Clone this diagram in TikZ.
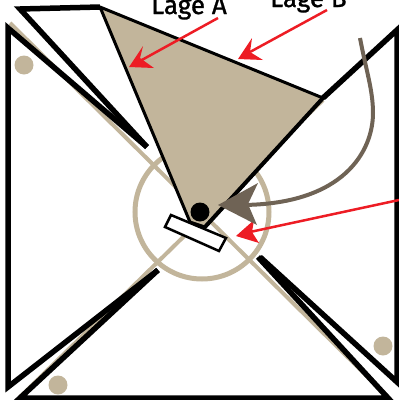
\documentclass[tikz,border=0pt]{standalone}
\usepackage{fontspec}
\setmainfont{Fira Sans}
\newfontfamily\hand[FakeBold=1.2]{Fira Sans}
\definecolor{tan}{HTML}{C2B59B}
\definecolor{umber}{HTML}{6F6355}
\definecolor{alarm}{HTML}{ED1C24}
\tikzset{
  bar/.style={line width=5.5pt,line join=miter,miter limit=20},
  tanline/.style={draw=tan,line width=4pt},
  dot/.style={circle,fill=tan,minimum size=19pt,inner sep=0pt},
  lbl/.style={anchor=base west,inner sep=0pt,font=\hand\fontsize{26}{26}\selectfont},
  redline/.style={draw=alarm,line width=2.5pt},
  redhead/.style={fill=alarm},
}
\begin{document}
\begin{tikzpicture}[x=1pt,y=-1pt]
\useasboundingbox (0,0) rectangle (399,400);
% guide lines and circle
\draw[tanline] (10,23) -- (388,397);
\draw[tanline] (20,397) -- (323,100);
\draw[draw=tan,line width=5pt] (202,212) circle (67);
% dots
\node[dot] (d1) at (24,65) {};
\node[dot] (d2) at (58,385) {};
\node[dot] (d3) at (383,346) {};
% black outlines
\draw[bar] (147,147) -- (8,28) -- (8,387) -- (158,270);
\draw[bar] (147,147) -- (20,9) -- (100,7);
\draw[bar] (158,270) -- (20,398) -- (388,398) -- (258,257);
\draw[bar] (260,257) -- (397,382) -- (397,30) -- (323,98);
% sector
\draw[fill=tan,line width=3pt,line join=round] (100,7) -- (323,98) -- (205,227) -- (190,222) -- cycle;
\draw[line width=4pt] (323,98) -- (205,227);
% small rectangle and pivot
\draw[fill=white,line width=2.5pt] (171,215) -- (226,238) -- (219,251) -- (165,227) -- cycle;
\node[circle,fill=black,minimum size=19pt,inner sep=0pt] (pivot) at (200,212) {};
% labels
\node[lbl] (lagea) at (151,14) {Lage A};
\node[lbl] (lageb) at (270,7) {Lage B};
% red arrows
\coordinate (a0) at (218,18); \coordinate (a1) at (140,61);
\coordinate (b0) at (327,10); \coordinate (b1) at (250,52);
\coordinate (c0) at (399,200); \coordinate (c1) at (250,232);
\draw[redline] (a0) -- (a1);
\fill[redhead] (129,67) -- (143,46) -- (140,58) -- (154,68) -- cycle;
\draw[redline] (b0) -- (b1);
\fill[redhead] (238,59) -- (252,38) -- (250,52) -- (263,60) -- cycle;
\draw[redline] (c0) -- (c1);
\fill[redhead] (236,236) -- (254,220) -- (252,232) -- (259,243) -- cycle;
% brown arrow
\coordinate (e0) at (360,38); \coordinate (e1) at (240,205);
\draw[draw=umber,line width=4pt] (e0) .. controls (366,70) and (373,90) .. (373,113)
  .. controls (373,150) and (345,205) .. (e1);
\fill[umber] (218,205) -- (258,183) -- (248,204) -- (257,225) -- cycle;
\end{tikzpicture}
\end{document}
